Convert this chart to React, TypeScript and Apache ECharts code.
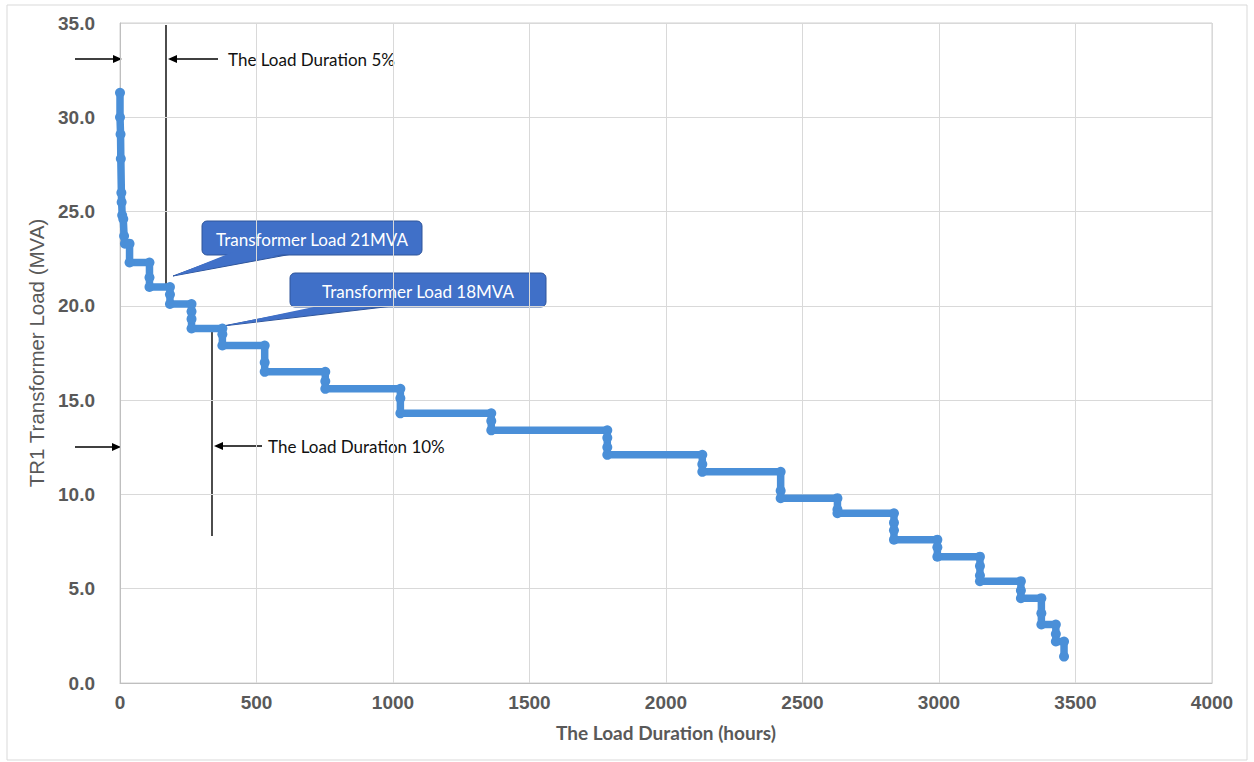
import React, { useEffect, useRef } from "react";
import * as echarts from "echarts";

// Load duration curve corner / drop points (hours, MVA)
const hours = [
  0, 0, 2, 3, 5, 6, 8, 12, 15, 18, 35, 35, 108, 108, 108, 183, 183, 183, 262, 262, 262, 262,
  375, 375, 375, 530, 530, 530, 752, 752, 752, 1027, 1027, 1027, 1360, 1360, 1360, 1785, 1785,
  1785, 1785, 2133, 2133, 2133, 2420, 2420, 2420, 2628, 2628, 2628, 2835, 2835, 2835, 2835,
  2994, 2994, 2994, 3150, 3150, 3150, 3150, 3300, 3300, 3300, 3375, 3375, 3375, 3428, 3428,
  3428, 3458, 3458,
];
const loadMVA = [
  31.3, 30.0, 29.1, 27.8, 26.0, 25.5, 24.8, 24.6, 23.7, 23.3, 23.3, 22.3, 22.3, 21.5, 21.0,
  21.0, 20.6, 20.1, 20.1, 19.7, 19.3, 18.8, 18.8, 18.5, 17.9, 17.9, 17.0, 16.5, 16.5, 16.0,
  15.6, 15.6, 15.1, 14.3, 14.3, 13.9, 13.4, 13.4, 13.0, 12.5, 12.1, 12.1, 11.6, 11.2, 11.2,
  10.2, 9.8, 9.8, 9.2, 9.0, 9.0, 8.5, 8.1, 7.6, 7.6, 7.2, 6.7, 6.7, 6.2, 5.7, 5.4, 5.4, 4.9,
  4.5, 4.5, 3.7, 3.1, 3.1, 2.6, 2.2, 2.2, 1.4,
];

const xTicks = { min: 0, max: 4000, interval: 500 };
const yTicks = { min: 0, max: 35, interval: 5 };

const xTitle = "The Load Duration (hours)";
const yTitle = "TR1 Transformer Load (MVA)";
const note5 = "The Load Duration 5%";
const note10 = "The Load Duration 10%";
const callout21 = "Transformer Load 21MVA";
const callout18 = "Transformer Load 18MVA";

const TICK_FONT = "'Liberation Sans', Arial, sans-serif";
const NOTE_FONT = "Lato, 'Open Sans', sans-serif";
const CALLOUT_FILL = "#4070c8";
const CALLOUT_STROKE = "#2f559a";
const LINE_COLOR = "#4a8fd8";

function arrow(x1: number, x2: number, y: number) {
  const dir = x2 > x1 ? 1 : -1;
  const head = 9;
  return [
    { type: "line", shape: { x1, y1: y, x2: x2 - dir * head, y2: y }, style: { stroke: "#000", lineWidth: 1.3 } },
    {
      type: "polygon",
      shape: { points: [[x2, y], [x2 - dir * head, y - 4], [x2 - dir * head, y + 4]] },
      style: { fill: "#000" },
    },
  ];
}

function callout(x: number, y: number, w: number, h: number, tri: number[][], text: string) {
  return [
    {
      type: "polygon",
      shape: { points: tri },
      style: { fill: CALLOUT_FILL, stroke: CALLOUT_STROKE, lineWidth: 1 },
    },
    {
      type: "rect",
      shape: { x, y, width: w, height: h, r: 5 },
      style: { fill: CALLOUT_FILL, stroke: CALLOUT_STROKE, lineWidth: 1 },
    },
    {
      type: "polygon",
      shape: { points: tri.map((p, i) => (i < 2 ? [p[0] + 1, p[1] - 2] : p)) },
      style: { fill: CALLOUT_FILL },
    },
    {
      type: "text",
      x: x + w / 2,
      y: y + h / 2 + 1,
      style: {
        text,
        fill: "#ffffff",
        font: `17px ${NOTE_FONT}`,
        textAlign: "center",
        textVerticalAlign: "middle",
      },
    },
  ];
}

export default function App() {
  const ref = useRef<HTMLDivElement>(null);
  useEffect(() => {
    if (!ref.current) return;
    const chart = echarts.init(ref.current, null, { renderer: "svg" });
    const data = hours.map((h, i) => [h, loadMVA[i]]);
    chart.setOption({
      animation: false,
      backgroundColor: "#ffffff",
      grid: {
        left: 120,
        right: 42,
        top: 23,
        bottom: 79,
        show: true,
        borderColor: "#d0d0d0",
        borderWidth: 1,
      },
      xAxis: {
        type: "value",
        min: xTicks.min,
        max: xTicks.max,
        interval: xTicks.interval,
        name: xTitle,
        nameLocation: "middle",
        nameGap: 40,
        nameTextStyle: { fontFamily: NOTE_FONT, fontWeight: "bold", fontSize: 19, color: "#595959" },
        axisLine: { show: true, lineStyle: { color: "#bfbfbf", width: 1 } },
        axisTick: { show: false },
        axisLabel: {
          margin: 10,
          fontFamily: TICK_FONT,
          fontWeight: "bold",
          fontSize: 19,
          color: "#595959",
          formatter: (v: number) => String(v),
        },
        splitLine: { show: true, lineStyle: { color: "#d9d9d9", width: 1 } },
      },
      yAxis: {
        type: "value",
        min: yTicks.min,
        max: yTicks.max,
        interval: yTicks.interval,
        name: yTitle,
        nameLocation: "middle",
        nameRotate: 90,
        nameGap: 65,
        nameTextStyle: { fontFamily: TICK_FONT, fontSize: 20.5, color: "#595959" },
        axisLine: { show: true, lineStyle: { color: "#bfbfbf", width: 1 } },
        axisTick: { show: false },
        axisLabel: {
          margin: 25,
          fontFamily: TICK_FONT,
          fontWeight: "bold",
          fontSize: 19,
          color: "#595959",
          formatter: (v: number) => v.toFixed(1),
        },
        splitLine: { show: true, lineStyle: { color: "#d9d9d9", width: 1 } },
      },
      series: [
        {
          type: "line",
          data,
          showAllSymbol: true,
          symbol: "circle",
          symbolSize: 10,
          itemStyle: { color: LINE_COLOR },
          lineStyle: { color: LINE_COLOR, width: 7.5, cap: "round", join: "round" },
          z: 3,
        },
      ],
      graphic: [
        {
          type: "rect",
          shape: { x: 7, y: 5, width: 1240, height: 755 },
          style: { fill: "none", stroke: "#d9d9d9", lineWidth: 1 },
          silent: true,
        },
        { type: "line", shape: { x1: 166, y1: 25, x2: 166, y2: 285 }, style: { stroke: "#000", lineWidth: 1.4 } },
        { type: "line", shape: { x1: 212, y1: 328, x2: 212, y2: 536 }, style: { stroke: "#000", lineWidth: 1.4 } },
        ...arrow(75, 122, 59),
        ...arrow(218, 168, 59),
        ...arrow(75, 121, 447),
        ...arrow(262, 214, 446),
        {
          type: "text",
          x: 228,
          y: 59,
          style: { text: note5, fill: "#111", font: `17px ${NOTE_FONT}`, textVerticalAlign: "middle" },
        },
        {
          type: "text",
          x: 268,
          y: 446,
          style: { text: note10, fill: "#111", font: `17px ${NOTE_FONT}`, textVerticalAlign: "middle" },
        },
        ...callout(202, 221, 220, 34, [[232, 254], [292, 254], [173, 276]], callout21),
        ...callout(290, 273, 256, 34, [[327, 306], [393, 306], [223, 326]], callout18),
      ],
    });
    return () => chart.dispose();
  }, []);
  return (
    <div
      ref={ref}
      style={{ position: "absolute", left: 0, top: 0, width: 1254, height: 762 }}
    />
  );
}
